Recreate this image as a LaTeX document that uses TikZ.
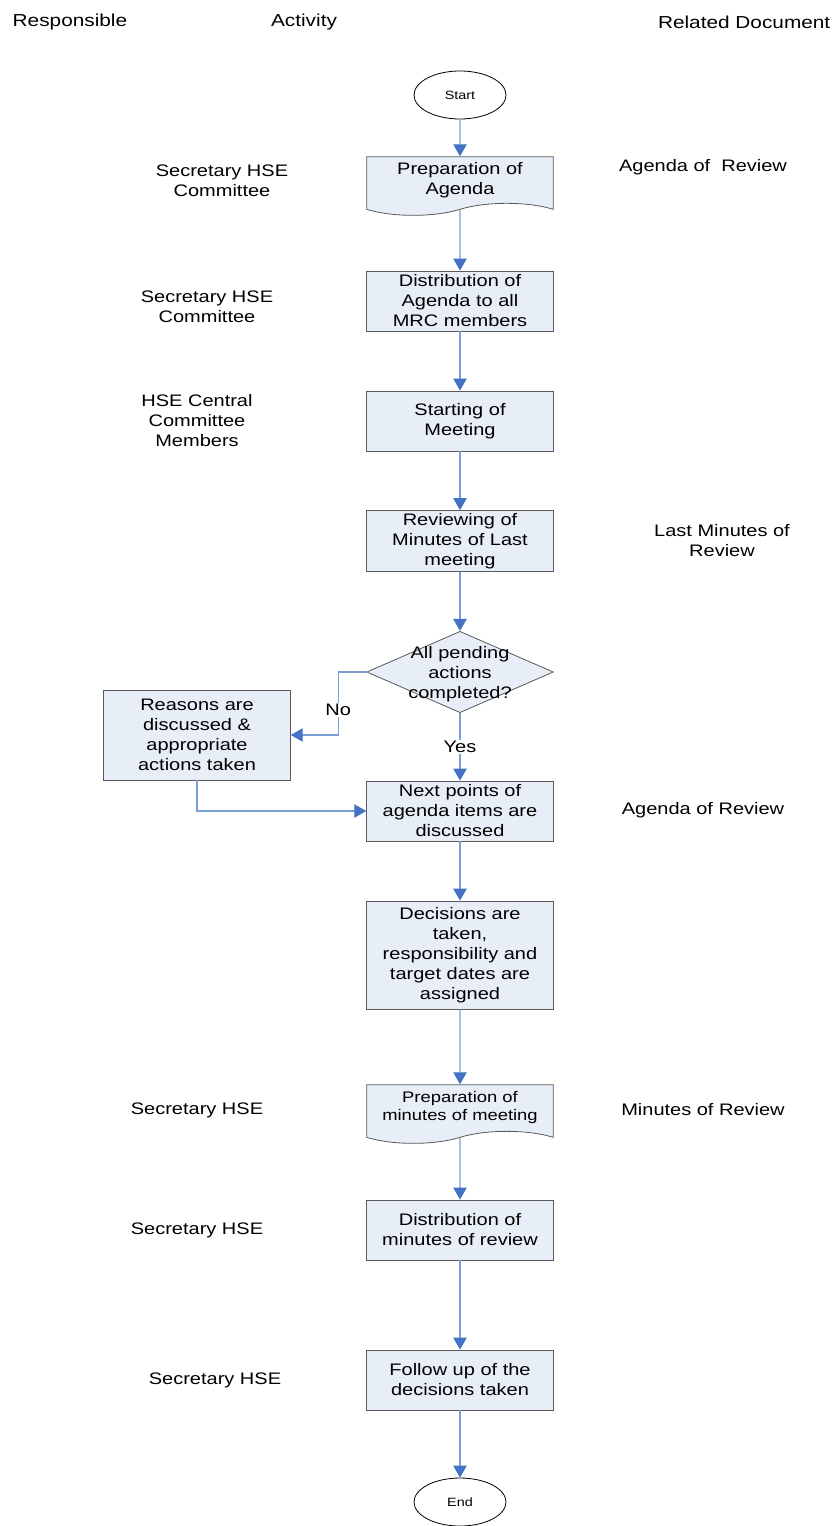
\documentclass[tikz,border=0pt]{standalone}
\usepackage{fontspec}
\setmainfont{Liberation Sans}[FakeStretch=1.2]
\usetikzlibrary{shapes.geometric, shapes.symbols, arrows.meta, positioning}
\definecolor{boxfill}{RGB}{232,238,247}
\definecolor{flowline}{RGB}{120,158,214}
\definecolor{flowtip}{RGB}{68,114,196}
\newcommand{\boxfont}{\fontsize{12.5}{15}\selectfont}
\newcommand{\smallboxfont}{\fontsize{11.5}{13.5}\selectfont}

\begin{document}
\begin{tikzpicture}[
    x=0.75pt, y=-0.75pt,
    actbox/.style={rectangle, draw=black!65, fill=boxfill, line width=0.6pt,
      minimum width=140pt, minimum height=45pt, align=center,
      font=\boxfont, inner sep=2pt},
    docbox/.style={tape, tape bend top=none, tape bend bottom=in and out,
      tape bend height=9pt, draw=black!65, fill=boxfill, line width=0.6pt,
      minimum width=140pt, minimum height=44pt, align=center,
      font=\boxfont, inner sep=2pt},
    terminal/.style={ellipse, draw=black, fill=white, line width=0.6pt,
      minimum width=69pt, minimum height=36pt, font=\fontsize{9}{11}\selectfont},
    decision/.style={diamond, draw=black!65, fill=boxfill, line width=0.6pt,
      minimum width=140pt, minimum height=61pt, inner sep=0pt},
    role/.style={align=center, font=\boxfont},
    head/.style={font=\fontsize{13}{15}\selectfont},
    flow/.style={draw=flowline, line width=1pt,
      -{Triangle[length=9pt, width=10pt, color=flowtip]}},
    answer/.style={fill=white, font=\boxfont, inner sep=1pt}
  ]
  \useasboundingbox (0,0) rectangle (837,1526);

  % column heads
  \node[head, anchor=west] (hresp) at (8,22) {Responsible};
  \node[head] (hact) at (304,22) {Activity};
  \node[head, anchor=east] (hdoc) at (835,22) {Related Document};

  % activities
  \node[terminal] (start) at (460,95) {Start};
  \node[docbox] (agenda) at (460,180) {Preparation of\\Agenda};
  \node[actbox] (distrib) at (460,301) {Distribution of\\Agenda to all\\MRC members};
  \node[actbox] (meeting) at (460,421) {Starting of\\Meeting};
  \node[actbox] (review) at (460,541) {Reviewing of\\Minutes of Last\\meeting};
  \node[decision] (pending) at (460,672) {};
  \node[role] (pendingtxt) at (460,674) {All pending\\actions\\completed?};
  \node[actbox, minimum height=67.5pt] (reasons) at (197,735)
    {Reasons are\\discussed \&\\appropriate\\actions taken};
  \node[actbox] (nextpts) at (460,811) {Next points of\\agenda items are\\discussed};
  \node[actbox, minimum height=81pt] (decisions) at (460,955)
    {Decisions are\\taken,\\responsibility and\\target dates are\\assigned};
  \node[docbox, font=\smallboxfont] (minutes) at (460,1108)
    {Preparation of\\minutes of meeting};
  \node[actbox] (distmin) at (460,1230) {Distribution of\\minutes of review};
  \node[actbox] (followup) at (460,1380) {Follow up of the\\decisions taken};
  \node[terminal] (end) at (460,1502) {End};

  % responsible
  \node[role] (r1) at (222,181) {Secretary HSE\\Committee};
  \node[role] (r2) at (207,307) {Secretary HSE\\Committee};
  \node[role] (r3) at (197,421) {HSE Central\\Committee\\Members};
  \node[role] (r4) at (197,1110) {Secretary HSE};
  \node[role] (r5) at (197,1230) {Secretary HSE};
  \node[role] (r6) at (215,1380) {Secretary HSE};

  % related documents
  \node[role] (d1) at (703,167) {Agenda of~~Review};
  \node[role] (d2) at (722,541) {Last Minutes of\\Review};
  \node[role] (d3) at (703,810) {Agenda of Review};
  \node[role] (d4) at (703,1110) {Minutes of Review};

  % connectors
  \draw[flow] (start) -- (agenda);
  \draw[flow] (agenda) -- (distrib);
  \draw[flow] (distrib) -- (meeting);
  \draw[flow] (meeting) -- (review);
  \draw[flow] (review) -- (pending);
  \draw[flow] (pending.west) -- ++(-28,0) |- node[answer, pos=0.3] {No} (reasons.east);
  \draw[flow] (pending) -- node[answer] {Yes} (nextpts);
  \draw[flow] (reasons) |- (nextpts);
  \draw[flow] (nextpts) -- (decisions);
  \draw[flow] (decisions) -- (minutes);
  \draw[flow] (minutes) -- (distmin);
  \draw[flow] (distmin) -- (followup);
  \draw[flow] (followup) -- (end);
\end{tikzpicture}
\end{document}
